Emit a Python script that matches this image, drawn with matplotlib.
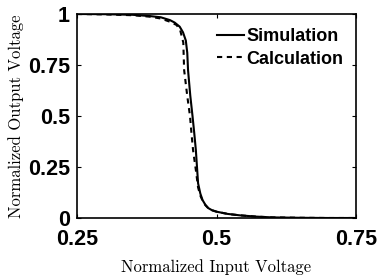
import matplotlib
matplotlib.use("Agg")
import matplotlib.pyplot as plt

# Transfer curves
sim_x = [0.25, 0.30, 0.35, 0.38, 0.40, 0.4166, 0.425, 0.434, 0.440, 0.445, 0.4476, 0.449,
         0.453, 0.457, 0.460, 0.463, 0.467, 0.471, 0.475, 0.480, 0.485, 0.492, 0.50, 0.52,
         0.542, 0.57, 0.60, 0.65, 0.70, 0.75]
sim_y = [1.0, 0.999, 0.996, 0.99, 0.984, 0.97, 0.958, 0.938, 0.91, 0.87, 0.81, 0.725,
         0.60, 0.50, 0.42, 0.333, 0.17, 0.12, 0.088, 0.065, 0.049, 0.038, 0.031, 0.02,
         0.013, 0.007, 0.003, 0.001, 0.0, 0.0]

calc_x = [0.25, 0.30, 0.35, 0.38, 0.40, 0.4166, 0.4285, 0.435, 0.4405, 0.442, 0.4475, 0.4525,
          0.455, 0.458, 0.463, 0.467, 0.471, 0.475, 0.480, 0.485, 0.492, 0.50, 0.52,
          0.542, 0.57, 0.60, 0.65, 0.70, 0.75]
calc_y = [1.0, 0.998, 0.994, 0.987, 0.978, 0.962, 0.946, 0.92, 0.86, 0.725, 0.60, 0.50,
          0.42, 0.333, 0.235, 0.15, 0.11, 0.085, 0.063, 0.049, 0.038, 0.031, 0.02,
          0.013, 0.007, 0.003, 0.001, 0.0, 0.0]

x_ticks = [0.25, 0.5, 0.75]
x_tick_labels = ["0.25", "0.5", "0.75"]
y_ticks = [0, 0.25, 0.5, 0.75, 1]
y_tick_labels = ["0", "0.25", "0.5", "0.75", "1"]

fig = plt.figure(figsize=(3.77, 2.80), dpi=100)
ax = fig.add_axes([77 / 377, 1 - 218 / 280, 279 / 377, 204 / 280])

ax.plot(sim_x, sim_y, color="black", linewidth=1.5, label="Simulation")
ax.plot(calc_x, calc_y, color="black", linewidth=1.5, linestyle=(0, (2.5, 2.2)), label="Calculation")

ax.set_xlim(0.25, 0.75)
ax.set_ylim(0, 1)
ax.set_xticks(x_ticks)
ax.set_xticklabels(x_tick_labels)
ax.set_yticks(y_ticks)
ax.set_yticklabels(y_tick_labels)
for lab in ax.get_xticklabels() + ax.get_yticklabels():
    lab.set_fontfamily("Liberation Sans")
    lab.set_fontweight("bold")
    lab.set_fontsize(15.5)
ax.tick_params(axis="x", direction="in", top=True, length=3, width=0.8, pad=8)
ax.tick_params(axis="y", direction="in", right=True, length=3, width=0.8, pad=5)
for s in ax.spines.values():
    s.set_linewidth(1.2)

ax.set_xlabel("Normalized Input Voltage", fontfamily="cmr10", fontsize=12)
ax.set_ylabel("Normalized Output Voltage", fontfamily="cmr10", fontsize=12)
ax.xaxis.set_label_coords(0.5, -0.2)
ax.yaxis.set_label_coords(-0.19, 0.5)

leg = ax.legend(loc="upper left", bbox_to_anchor=(0.5, 0.93), frameon=False,
                handlelength=1.55, handletextpad=0.1, labelspacing=0.3, borderaxespad=0.0,
                borderpad=0.0,
                prop={"family": "Liberation Sans", "weight": "bold", "size": 13})

fig.savefig("out.png", dpi=100)
